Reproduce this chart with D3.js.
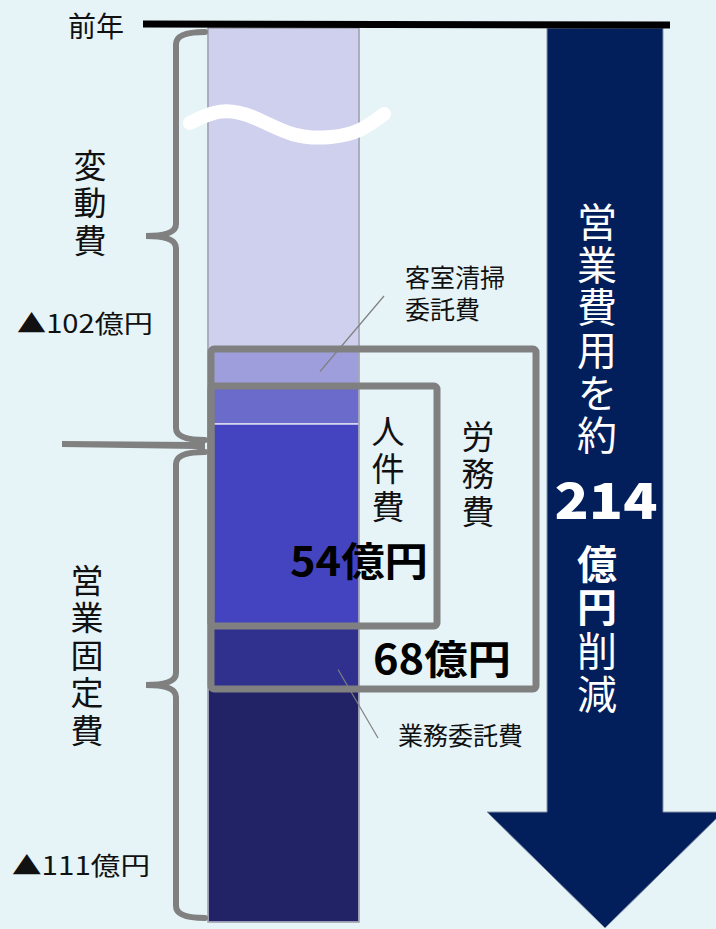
<!DOCTYPE html>
<html>
<head>
<meta charset="utf-8">
<script src="https://cdn.jsdelivr.net/npm/d3@7"></script>
<style>
  body { margin: 0; background: #e6f4f8; }
  svg { display: block; }
</style>
</head>
<body>
<div id="chart"></div>
<script>
// stacked column segments, top to bottom (display units)
const segNames  = ["変動費その他", "客室清掃委託費", "人件費(変動)", "人件費(固定)", "業務委託費", "固定費その他"];
const segValues = [321, 37, 38, 202, 63, 233];
const segColors = ["#cfd0ee", "#9e9edd", "#6b6bcb", "#4444c0", "#30308f", "#222266"];

// brackets on the left
const groupNames  = ["変動費", "営業固定費"];
const groupTotals = ["▲102億円", "▲111億円"];
const groupSegs   = [[0, 3], [3, 6]];

// boxes round the labour costs
const boxNames  = ["労務費", "人件費"];
const boxValues = ["68億円", "54億円"];
const boxSegs   = [[1, 5], [2, 4]];

const arrowText1 = "営業費用を約";
const arrowTotal = "214";
const arrowText2 = "億円";
const arrowText3 = "削減";

const W = 716, H = 929;
const font = "'Noto Sans CJK JP', 'Noto Sans', sans-serif";
const gray = "#808080";

const svg = d3.select("#chart").append("svg")
    .attr("width", W)
    .attr("height", H);

svg.append("rect").attr("width", W).attr("height", H).attr("fill", "#e6f4f8");

const total = d3.sum(segValues);
const y = d3.scaleLinear().domain([0, total]).range([28, 922]);
const x = d3.scaleBand().domain(["bar"]).range([208, 359]).padding(0);

// cumulative boundaries
const bounds = [0];
segValues.forEach((v, i) => bounds.push(bounds[i] + v));

// vertical (tategaki) text, one element per label
function vText(g, str, cx, firstCenter, size, step, weight) {
    return g.append("text")
        .attr("x", cx)
        .attr("y", firstCenter - size / 2)
        .attr("font-size", size)
        .attr("font-weight", weight || 400)
        .style("writing-mode", "vertical-rl")
        .style("text-orientation", "upright")
        .style("letter-spacing", (step - size) + "px")
        .text(str);
}

// ---- big arrow on the right
const ax0 = 547, ax1 = 663, axc = (ax0 + ax1) / 2, headY = 812, headHalf = 118, tipY = 928;
svg.append("path")
    .attr("d", `M${ax0},28 L${ax1},28 L${ax1},${headY} L${axc + headHalf},${headY} L${axc},${tipY} L${axc - headHalf},${headY} L${ax0},${headY} Z`)
    .attr("fill", "#021f5c")
    .attr("stroke", "#8a93a8")
    .attr("stroke-width", 1);

const at = svg.append("g")
    .attr("fill", "white")
    .attr("font-family", font);

vText(at, arrowText1, 597, 222, 40, 42.6);
at.append("text")
    .attr("x", 606).attr("y", 497)
    .attr("text-anchor", "middle")
    .attr("dominant-baseline", "central")
    .attr("font-size", 50).attr("font-weight", 900)
    .attr("textLength", 103).attr("lengthAdjust", "spacingAndGlyphs")
    .text(arrowTotal);
vText(at, arrowText2, 597, 564, 40, 43, 700);
vText(at, arrowText3, 597, 651, 40, 43, 400);

// ---- stacked bar
svg.append("g")
    .selectAll("rect")
    .data(segValues)
    .join("rect")
    .attr("x", x("bar"))
    .attr("y", (d, i) => y(bounds[i]))
    .attr("width", x.bandwidth())
    .attr("height", d => y(d) - y(0))
    .attr("fill", (d, i) => segColors[i])
    .attr("stroke", "#dcdcf0")
    .attr("stroke-width", 1.5);

// bar outline
svg.append("rect")
    .attr("x", x("bar")).attr("y", y(0))
    .attr("width", x.bandwidth()).attr("height", y(total) - y(0))
    .attr("fill", "none").attr("stroke", "#8c8c9c").attr("stroke-width", 1.2);

// break mark on the tall top segment
const bx = x("bar"), by = y(0);
const breakPts = [[-18, 95], [12, 80], [45, 87], [85, 110], [125, 110], [152, 104], [176, 86]];
svg.append("path")
    .attr("d", d3.line().curve(d3.curveBasis)(breakPts.map(p => [bx + p[0], by + p[1]])))
    .attr("fill", "none")
    .attr("stroke", "white")
    .attr("stroke-width", 14)
    .attr("stroke-linecap", "round");

// ---- boxes
svg.append("g")
    .selectAll("rect")
    .data(boxSegs)
    .join("rect")
    .attr("x", 211)
    .attr("y", d => y(bounds[d[0]]))
    .attr("width", (d, i) => i === 0 ? 325 : 226)
    .attr("height", d => y(bounds[d[1]]) - y(bounds[d[0]]))
    .attr("rx", 3)
    .attr("fill", "none")
    .attr("stroke", gray)
    .attr("stroke-width", 7);

const bt = svg.append("g")
    .attr("font-family", font)
    .attr("fill", "#111");

// vertical box names
vText(bt, boxNames[0], 478, 436, 33, 37.5);
vText(bt, boxNames[1], 388, 431, 33, 37.5);

// box values
[[442, 657], [359, 559]].forEach((p, b) => {
    bt.append("text")
        .attr("x", p[0]).attr("y", p[1])
        .attr("text-anchor", "middle")
        .attr("dominant-baseline", "central")
        .attr("font-size", 40).attr("font-weight", 700)
        .attr("fill", "#000")
        .attr("textLength", 138).attr("lengthAdjust", "spacingAndGlyphs")
        .text(boxValues[b]);
});

// ---- callouts
const ct = svg.append("g")
    .attr("font-family", font)
    .attr("font-size", 25)
    .attr("fill", "#111");
const cleanLabel = ct.append("text").attr("x", 405).attr("y", 287);
cleanLabel.append("tspan").attr("x", 405).text("客室清掃");
cleanLabel.append("tspan").attr("x", 405).attr("dy", 32).text("委託費");
ct.append("text").attr("x", 398).attr("y", 745).text("業務委託費");

svg.append("line")
    .attr("x1", 384).attr("y1", 296)
    .attr("x2", 320).attr("y2", (y(bounds[1]) + y(bounds[2])) / 2 + 4)
    .attr("stroke", gray).attr("stroke-width", 1.2);
svg.append("line")
    .attr("x1", 338).attr("y1", (y(bounds[4]) + y(bounds[5])) / 2 + 12)
    .attr("x2", 378).attr("y2", 738)
    .attr("stroke", gray).attr("stroke-width", 1.2);

// ---- brackets on the left
const junction = y(bounds[3]) + 22;
const brX = 176, brEnd = 205, brTip = 146, r = 12;
function brace(y1, y2) {
    const ym = (y1 + y2) / 2;
    return `M${brEnd},${y1} Q${brX},${y1} ${brX},${y1 + r} L${brX},${ym - r} Q${brX},${ym} ${brTip},${ym}` +
           ` Q${brX},${ym} ${brX},${ym + r} L${brX},${y2 - r} Q${brX},${y2} ${brEnd},${y2}`;
}
const braceEnds = [[y(bounds[groupSegs[0][0]]) + 4, junction - 6], [junction + 6, y(bounds[groupSegs[1][1]]) - 4]];

svg.append("g")
    .selectAll("path")
    .data(braceEnds)
    .join("path")
    .attr("d", d => brace(d[0], d[1]))
    .attr("fill", "none")
    .attr("stroke", gray)
    .attr("stroke-width", 6)
    .attr("stroke-linecap", "round");

svg.append("path")
    .attr("d", `M62,${junction - 5} L196,${junction - 4} L205,${junction - 8} L205,${junction + 6} L196,${junction + 3} L62,${junction + 1} Z`)
    .attr("fill", gray);

const gt = svg.append("g")
    .attr("font-family", font)
    .attr("fill", "#111");

braceEnds.forEach((e, g) => {
    const ym = (e[0] + e[1]) / 2;
    vText(gt, groupNames[g], g === 0 ? 90 : 87, g === 0 ? ym - 71 : ym - 105, 33, 37.5);
});
gt.append("text").attr("x", 85).attr("y", 322).attr("font-size", 25)
    .attr("text-anchor", "middle").attr("dominant-baseline", "central")
    .attr("textLength", 136).attr("lengthAdjust", "spacingAndGlyphs").text(groupTotals[0]);
gt.append("text").attr("x", 81).attr("y", 864).attr("font-size", 25)
    .attr("text-anchor", "middle").attr("dominant-baseline", "central")
    .attr("textLength", 138).attr("lengthAdjust", "spacingAndGlyphs").text(groupTotals[1]);

// ---- previous-year line
svg.append("line")
    .attr("x1", 143).attr("y1", 24)
    .attr("x2", 670).attr("y2", 25)
    .attr("stroke", "#000").attr("stroke-width", 7);
svg.append("text")
    .attr("x", 68).attr("y", 25)
    .attr("font-family", font).attr("font-size", 28)
    .attr("dominant-baseline", "central")
    .attr("fill", "#111")
    .text("前年");
</script>
</body>
</html>
